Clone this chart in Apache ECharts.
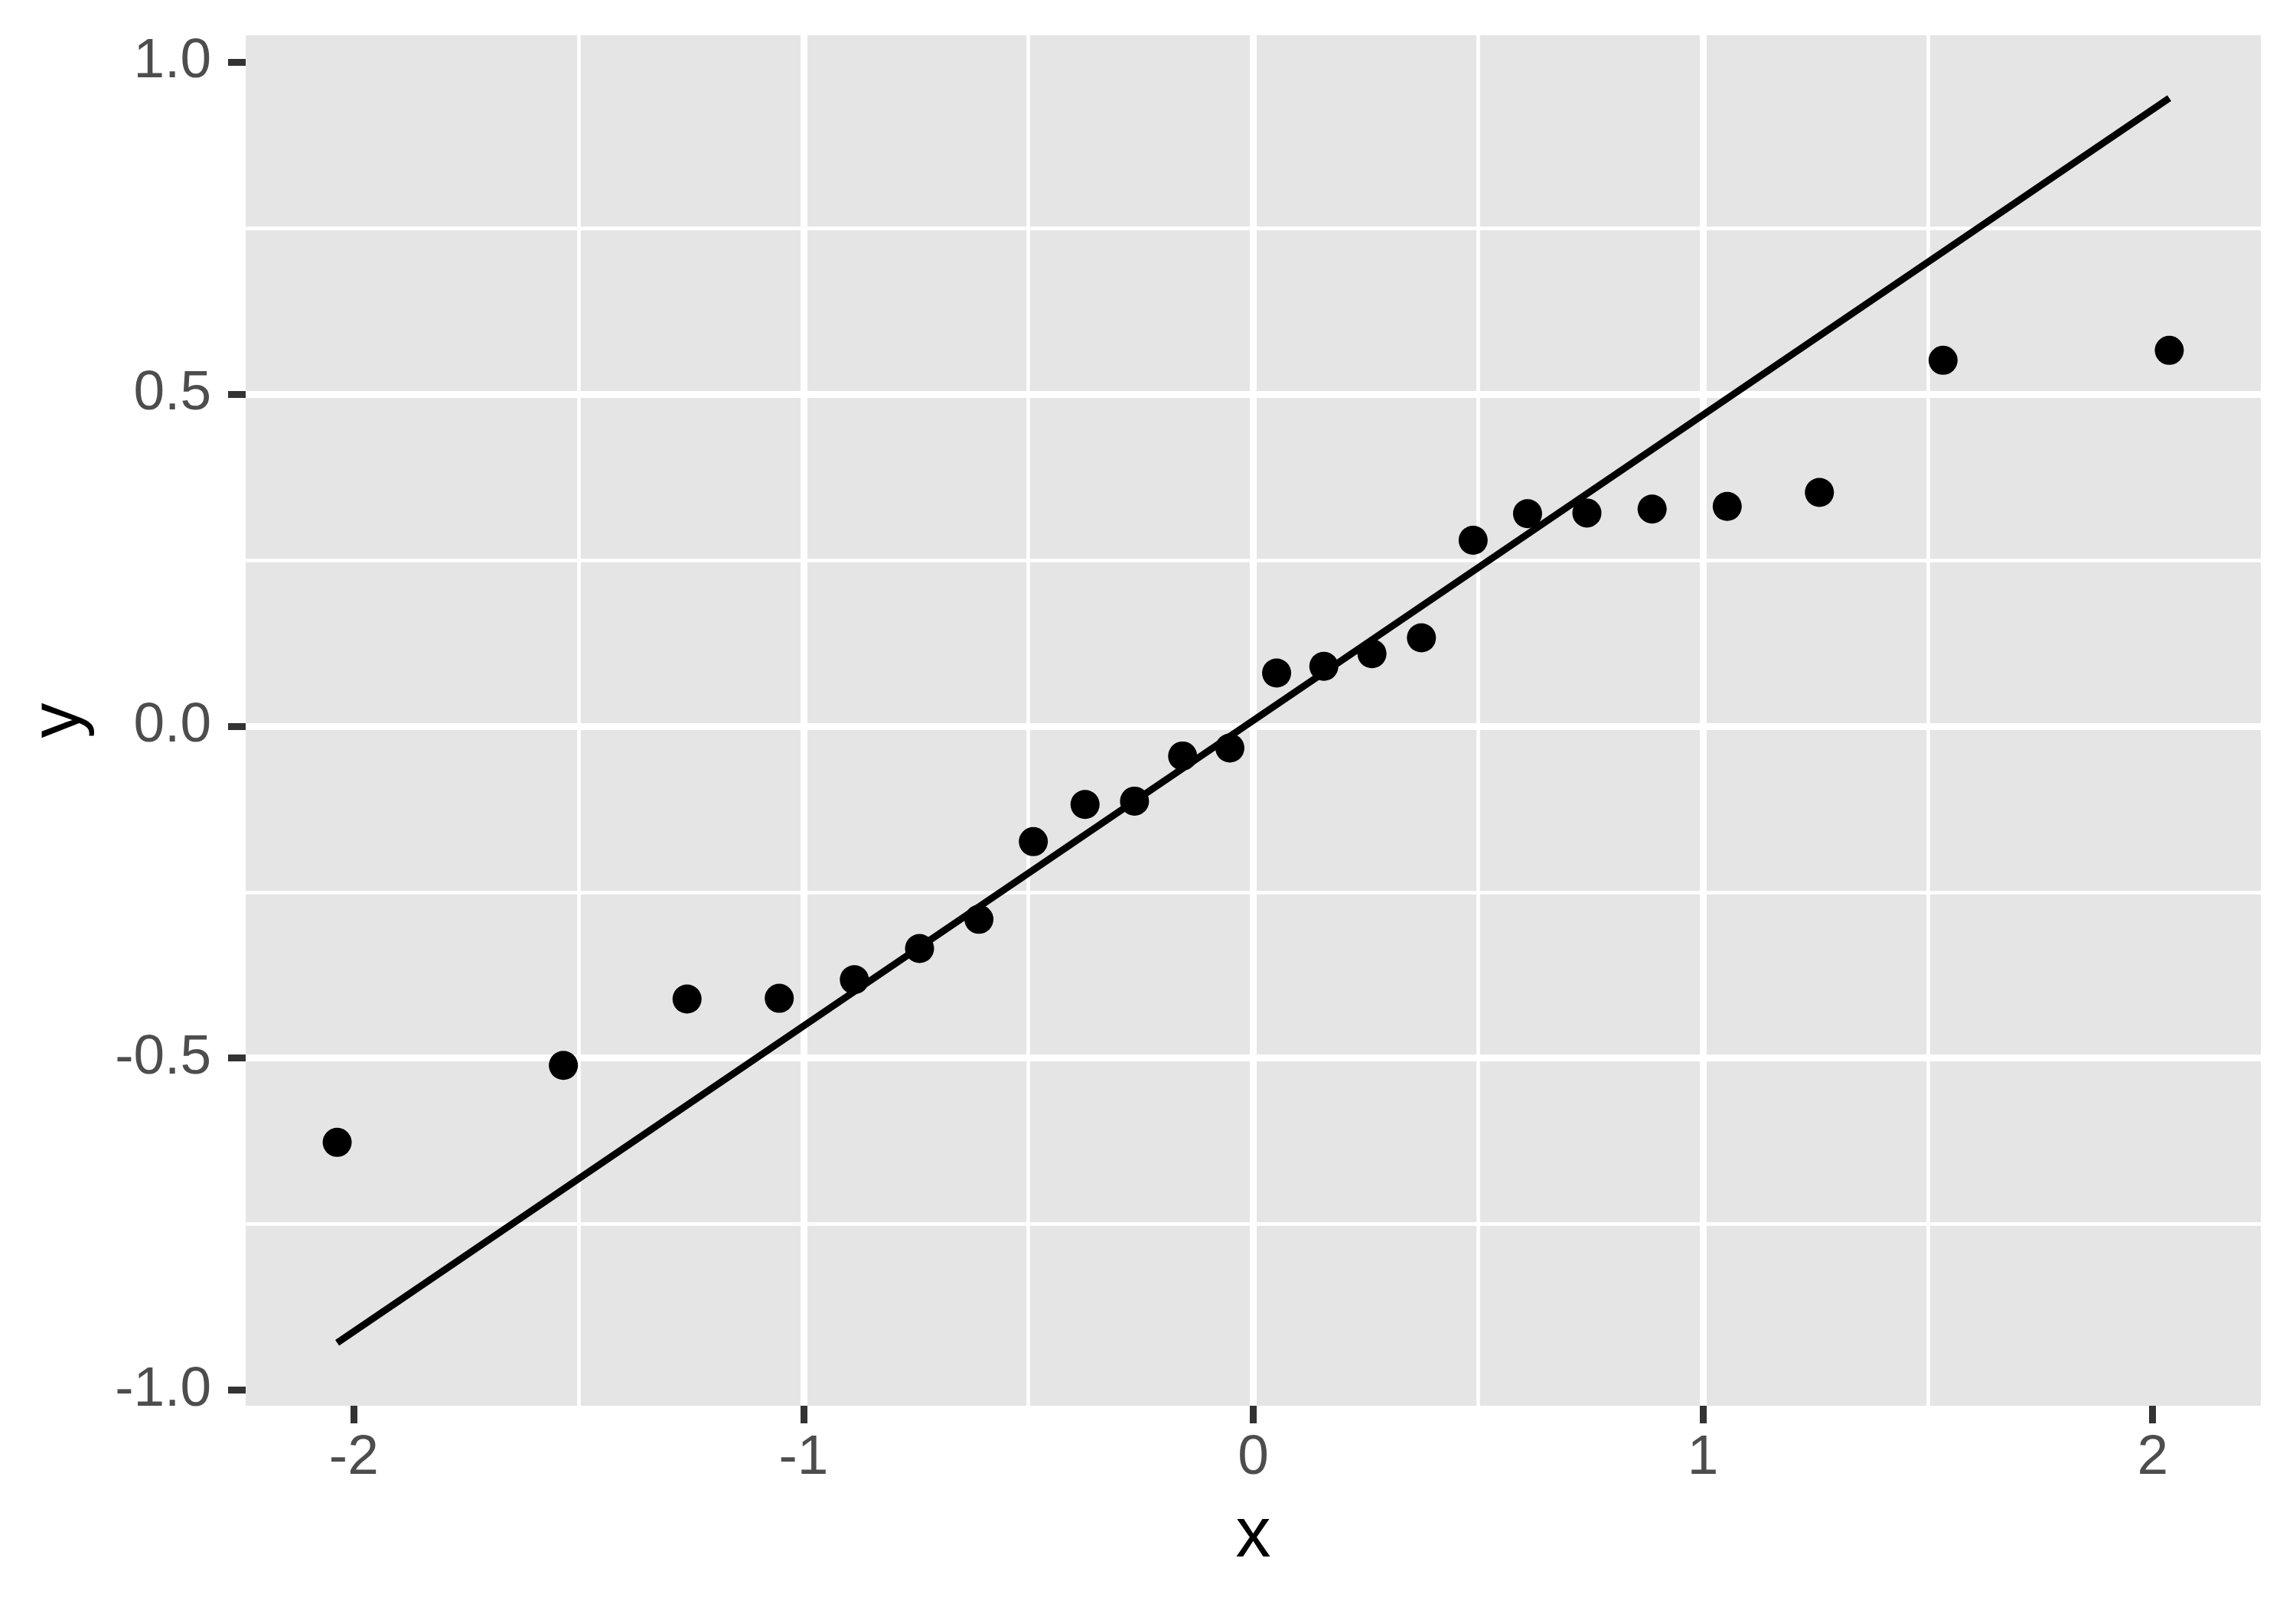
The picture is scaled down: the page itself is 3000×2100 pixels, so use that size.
<!DOCTYPE html>
<html>
<head>
<meta charset="utf-8">
<title>qq plot</title>
<script src="https://cdn.jsdelivr.net/npm/echarts@6/dist/echarts.min.js"></script>
<style>
  html, body { margin: 0; padding: 0; background: #fff; }
  #qq-chart { width: 3000px; height: 2100px; }
</style>
</head>
<body>
<div id="qq-chart"></div>
<script>
// theoretical quantiles (x) and sample values (y)
var theoretical = [-2.037, -1.534, -1.259, -1.054, -0.887, -0.742, -0.610, -0.489,
  -0.374, -0.264, -0.157, -0.052, 0.052, 0.157, 0.264, 0.374,
  0.489, 0.610, 0.742, 0.887, 1.054, 1.259, 1.534, 2.037];
var sample = [-0.627, -0.511, -0.411, -0.410, -0.382, -0.335, -0.291, -0.174,
  -0.118, -0.113, -0.045, -0.033, 0.080, 0.090, 0.109, 0.133,
  0.280, 0.320, 0.321, 0.327, 0.331, 0.352, 0.551, 0.566];

// reference line end points
var lineX = [-2.037, 2.037];
var lineY = [-0.929, 0.946];

var xTicks = [-2, -1, 0, 1, 2];
var yTicks = [-1, -0.5, 0, 0.5, 1];

var fontFamily = '"Liberation Sans", Arial, sans-serif';

var chart = echarts.init(document.getElementById('qq-chart'));

var axisCommon = function (ticks, fmt) {
  return {
    type: 'value',
    splitNumber: 4,
    axisLine: { show: false, onZero: false },
    axisTick: {
      show: true,
      inside: false,
      length: 23,
      customValues: ticks,
      lineStyle: { color: '#333333', width: 9 }
    },
    axisLabel: {
      customValues: ticks,
      color: '#4D4D4D',
      fontSize: 73,
      fontFamily: fontFamily,
      formatter: fmt
    },
    splitLine: {
      show: true,
      showMinLine: false,
      showMaxLine: false,
      lineStyle: { color: '#FFFFFF', width: 9 }
    },
    minorTick: { show: false, splitNumber: 2 },
    minorSplitLine: {
      show: true,
      lineStyle: { color: '#FFFFFF', width: 4.5 }
    },
    nameLocation: 'middle',
    nameTextStyle: {
      color: '#000000',
      fontSize: 92,
      fontFamily: fontFamily
    }
  };
};

var xAxis = axisCommon(xTicks, function (v) { return String(Math.round(v)); });
xAxis.min = -2.2405;
xAxis.max = 2.2405;
xAxis.name = 'x';
xAxis.nameGap = 126;
xAxis.axisLabel.margin = 32;

var yAxis = axisCommon(yTicks, function (v) { return v.toFixed(1); });
yAxis.min = -1.0237;
yAxis.max = 1.0407;
yAxis.name = 'y';
yAxis.nameGap = 196;
yAxis.axisLabel.margin = 45;

chart.setOption({
  backgroundColor: '#FFFFFF',
  animation: false,
  grid: {
    left: 321,
    right: 46,
    top: 46,
    bottom: 263,
    show: true,
    backgroundColor: '#E5E5E5',
    borderWidth: 0,
    outerBoundsMode: 'none'
  },
  xAxis: xAxis,
  yAxis: yAxis,
  series: [
    {
      name: 'sample',
      type: 'scatter',
      symbol: 'circle',
      symbolSize: 38,
      itemStyle: { color: '#000000', opacity: 1 },
      z: 3,
      data: theoretical.map(function (x, i) { return [x, sample[i]]; })
    },
    {
      name: 'qq line',
      type: 'line',
      showSymbol: false,
      symbol: 'none',
      lineStyle: { color: '#000000', width: 9, cap: 'butt' },
      z: 4,
      data: lineX.map(function (x, i) { return [x, lineY[i]]; })
    }
  ]
});
</script>
</body>
</html>
